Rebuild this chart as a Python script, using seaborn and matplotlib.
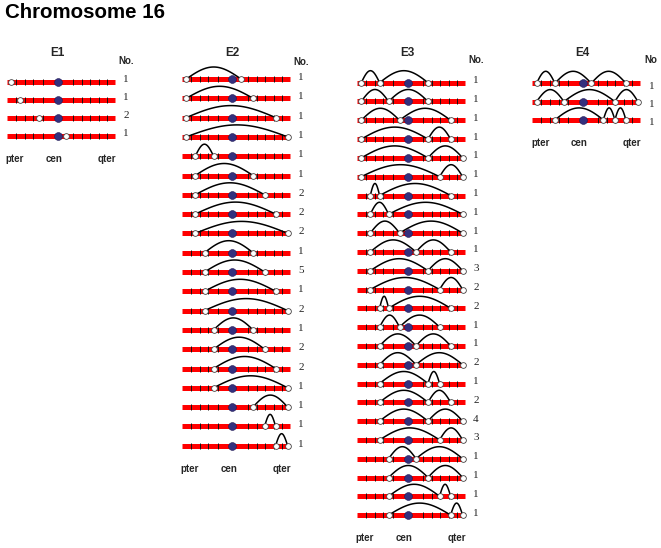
import numpy as np
import pandas as pd
import matplotlib
matplotlib.use("Agg")
import matplotlib.pyplot as plt
import seaborn as sns

# ---- data (positions along chromosome 16, pter = 0, qter = 108) ----
chrom_length = 108
centromere = 50.5
band_ticks = [8.7, 18, 26.3, 35.7, 65.7, 74.7, 83, 92, 99.7]

panel_names = ["E1", "E2", "E3", "E4"]

e1_breaks = [[4.3], [13.3], [31.6], [59]]
e1_counts = [1, 1, 2, 1]

e2_breaks = [[4.3, 59], [4.3, 71], [4.3, 93.6], [4.3, 105.6],
             [13.3, 31.6], [13.3, 71], [13.3, 82.6], [13.3, 93.6], [13.3, 105.6],
             [22.6, 71], [22.6, 82.6], [22.6, 93.6], [22.6, 105.6],
             [31.6, 71], [31.6, 82.6], [31.6, 93.6], [31.6, 105.6],
             [71, 105.6], [82.6, 93.6], [93.6, 105.6]]
e2_counts = [1, 1, 1, 1, 1, 1, 2, 2, 2, 1, 5, 1, 2, 1, 2, 2, 1, 1, 1, 1]

e3_breaks = [[4.3, 22.6, 71], [4.3, 31.6, 71], [4.3, 42.5, 93.6], [4.3, 71, 93.6],
             [4.3, 71, 105.6], [4.3, 82.6, 105.6], [13.3, 22.6, 93.6], [13.3, 31.6, 105.6],
             [13.3, 42.5, 105.6], [13.3, 59, 93.6], [13.3, 71, 105.6], [13.3, 82.6, 105.6],
             [22.6, 31.6, 93.6], [22.6, 42.5, 82.6], [22.6, 59, 93.6], [22.6, 59, 105.6],
             [22.6, 71, 82.6], [22.6, 71, 93.6], [22.6, 71, 105.6], [22.6, 82.6, 105.6],
             [31.6, 59, 105.6], [31.6, 71, 105.6], [31.6, 82.6, 93.6], [31.6, 93.6, 105.6]]
e3_counts = [1, 1, 1, 1, 1, 1, 1, 1, 1, 1, 3, 2, 2, 1, 1, 2, 1, 2, 4, 3, 1, 1, 1, 1]

e4_breaks = [[4.3, 22.6, 59, 93.6], [4.3, 31.6, 82.6, 105.6], [22.6, 71, 82.6, 93.6]]
e4_counts = [1, 1, 1]

arm_labels = ["pter", "cen", "qter"]
count_header = ["No.", "No.", "No.", "No"]

# ---- style ----
sns.set_style("white")
plt.rcParams["font.family"] = ["Liberation Sans", "DejaVu Sans"]

W, H = 661, 548
fig = plt.figure(figsize=(W / 100, H / 100), dpi=100)

# layout per panel (pixels): bar start x, first row y, row spacing, count offset
layout = {
    "E1": dict(x0=7, y0=82, dy=18.0, cnt_off=0.5, hdr_y=64),
    "E2": dict(x0=182, y0=79, dy=19.3, cnt_off=1.0, hdr_y=65),
    "E3": dict(x0=357, y0=82.7, dy=18.8, cnt_off=0.5, hdr_y=63),
    "E4": dict(x0=532.3, y0=83.3, dy=18.3, cnt_off=5.5, hdr_y=63),
}
all_breaks = {"E1": e1_breaks, "E2": e2_breaks, "E3": e3_breaks, "E4": e4_breaks}
all_counts = {"E1": e1_counts, "E2": e2_counts, "E3": e3_counts, "E4": e4_counts}

fig.text(5 / W, 1 - 18 / H, "Chromosome 16", ha="left", va="baseline",
         fontsize=14.8, fontweight="bold", color="black")

arc_px = 12.0
for pi, name in enumerate(panel_names):
    L = layout[name]
    x0, y0, dy = L["x0"], L["y0"], L["dy"]
    left_px, right_px = x0 - 10, x0 + 130
    ax = fig.add_axes([left_px / W, 0, (right_px - left_px) / W, 1])
    ax.set_xlim(-10, 130)
    ax.set_ylim((H - y0) / dy, (0 - y0) / dy)
    ax.axis("off")

    def py(p):
        return (p - y0) / dy

    breaks = all_breaks[name]
    counts = all_counts[name]
    n = len(breaks)
    rows = np.arange(n)

    # chromosome bars
    ax.hlines(rows, 0, chrom_length, color="#ff0000", lw=3.6, zorder=1,
              capstyle="butt")
    # band ticks
    tx = np.tile(band_ticks, n)
    ty = np.repeat(rows, len(band_ticks))
    ax.scatter(tx, ty, marker="|", s=18, c="#111111", linewidths=0.7, zorder=2)

    # arcs
    recs = []
    h = arc_px / dy
    t = np.linspace(0, 1, 80)
    k = 0
    for r, bps in enumerate(breaks):
        for a, b in zip(bps[:-1], bps[1:]):
            xs = a + (b - a) * t
            ys = r - h * np.sin(np.pi * t)
            recs.append(pd.DataFrame({"x": xs, "y": ys, "arc": k}))
            k += 1
    if recs:
        arcs = pd.concat(recs, ignore_index=True)
        sns.lineplot(data=arcs, x="x", y="y", units="arc", estimator=None,
                     sort=False, color="black", lw=1.1, ax=ax, zorder=3,
                     legend=False)

    # centromeres
    cen_df = pd.DataFrame({"x": [centromere] * n, "y": rows})
    sns.scatterplot(data=cen_df, x="x", y="y", s=32, color="#34307e",
                    edgecolor="#1f1a55", linewidth=0.4, ax=ax, zorder=4,
                    legend=False)
    # breakpoints
    bp_df = pd.DataFrame([(p, r) for r, bps in enumerate(breaks) for p in bps],
                         columns=["x", "y"])
    sns.scatterplot(data=bp_df, x="x", y="y", s=17, color="white",
                    edgecolor="#444444", linewidth=0.6, ax=ax, zorder=5,
                    legend=False)
    ax.set_xlabel("")
    ax.set_ylabel("")

    # texts
    ax.text(centromere, py(56), name, ha="center", va="baseline",
            fontsize=8.5, fontweight="bold")
    ax.text(119, py(L["hdr_y"]), count_header[pi], ha="center", va="baseline",
            fontsize=7, fontweight="bold")
    for r, c in enumerate(counts):
        ax.text(119, r + L["cnt_off"] / dy, str(c), ha="center", va="baseline",
                fontsize=8, family=["Liberation Serif", "DejaVu Serif"],
                color="#222222")
    yl = py(y0 + (n - 1) * dy + 26)
    for lab, xp in zip(arm_labels, [8, 47, 100]):
        ax.text(xp, yl, lab, ha="center", va="baseline", fontsize=7,
                fontweight="bold")

fig.savefig("out.png", dpi=100)
